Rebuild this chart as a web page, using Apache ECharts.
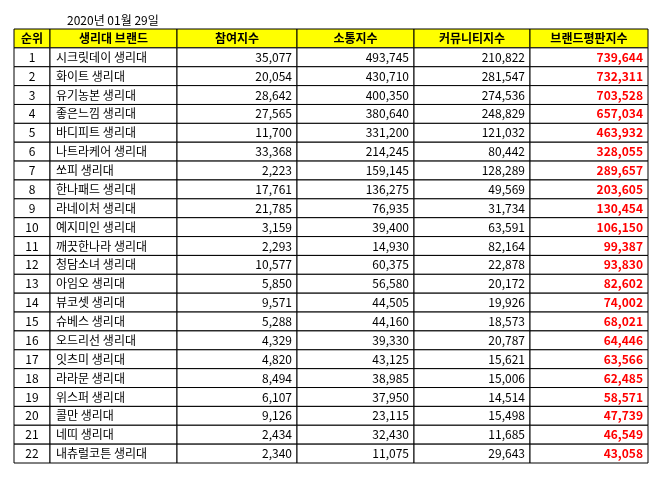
<!DOCTYPE html>
<html><head><meta charset="utf-8">
<script src="https://cdn.jsdelivr.net/npm/echarts@6/dist/echarts.min.js"></script>
<style>body{margin:0;background:#fff}#main{width:660px;height:478px}</style>
</head><body><div id="main"></div>
<script>
var headers = ['순위', '생리대 브랜드', '참여지수', '소통지수', '커뮤니티지수', '브랜드평판지수'];
var brands = ['시크릿데이 생리대', '화이트 생리대', '유기농본 생리대', '좋은느낌 생리대', '바디피트 생리대', '나트라케어 생리대', '쏘피 생리대', '한나패드 생리대', '라네이처 생리대', '예지미인 생리대', '깨끗한나라 생리대', '청담소녀 생리대', '아임오 생리대', '뷰코셋 생리대', '슈베스 생리대', '오드리선 생리대', '잇츠미 생리대', '라라문 생리대', '위스퍼 생리대', '콜만 생리대', '네띠 생리대', '내츄럴코튼 생리대'];
var participation = [35077, 20054, 28642, 27565, 11700, 33368, 2223, 17761, 21785, 3159, 2293, 10577, 5850, 9571, 5288, 4329, 4820, 8494, 6107, 9126, 2434, 2340];
var communication = [493745, 430710, 400350, 380640, 331200, 214245, 159145, 136275, 76935, 39400, 14930, 60375, 56580, 44505, 44160, 39330, 43125, 38985, 37950, 23115, 32430, 11075];
var community = [210822, 281547, 274536, 248829, 121032, 80442, 128289, 49569, 31734, 63591, 82164, 22878, 20172, 19926, 18573, 20787, 15621, 15006, 14514, 15498, 11685, 29643];
var reputation = [739644, 732311, 703528, 657034, 463932, 328055, 289657, 203605, 130454, 106150, 99387, 93830, 82602, 74002, 68021, 64446, 63566, 62485, 58571, 47739, 46549, 43058];

var colEdges = [14, 50, 177, 297, 414, 530, 648];
var fmt = function (v) { return v.toLocaleString('en-US'); };

// [col, row, text, kind]
var cells = [];
headers.forEach(function (h, c) { cells.push([c, 0, h, 'head']); });
brands.forEach(function (b, i) {
  var r = i + 1;
  cells.push([0, r, String(r), 'rank']);
  cells.push([1, r, b, 'name']);
  cells.push([2, r, fmt(participation[i]), 'num']);
  cells.push([3, r, fmt(communication[i]), 'num']);
  cells.push([4, r, fmt(community[i]), 'num']);
  cells.push([5, r, fmt(reputation[i]), 'rep']);
});

var font = '"Noto Sans CJK KR", sans-serif';
var chart = echarts.init(document.getElementById('main'));
chart.setOption({
  animation: false,
  title: { text: '2020년 01월 29일', left: 62, top: 9, textStyle: { fontSize: 12, fontWeight: 'normal', color: '#000', fontFamily: font } },
  grid: { left: 0, right: 0, top: 29, bottom: 15 },
  xAxis: { type: 'value', min: 0, max: 660, show: false },
  yAxis: { type: 'value', min: 0, max: 23, inverse: true, show: false },
  series: [{
    type: 'custom',
    data: cells,
    renderItem: function (params, api) {
      var c = api.value(0), r = api.value(1);
      var p0 = api.coord([colEdges[c], r]);
      var p1 = api.coord([colEdges[c + 1], r + 1]);
      var kind = cells[params.dataIndex][3];
      var text = cells[params.dataIndex][2];
      var align = 'center', tx = (p0[0] + p1[0]) / 2;
      if (kind === 'name') { align = 'left'; tx = p0[0] + 6; }
      if (kind === 'num' || kind === 'rep') { align = 'right'; tx = p1[0] - 5; }
      return {
        type: 'group',
        children: [
          { type: 'rect', shape: { x: p0[0], y: p0[1], width: p1[0] - p0[0], height: p1[1] - p0[1] },
            style: { fill: kind === 'head' ? '#ffff00' : '#fff', stroke: '#000', lineWidth: 1 } },
          { type: 'text', x: tx, y: (p0[1] + p1[1]) / 2,
            style: { text: text, align: align, verticalAlign: 'middle', fontFamily: font, fontSize: 12,
              fontWeight: (kind === 'head' || kind === 'rep') ? 'bold' : 'normal',
              fill: kind === 'rep' ? '#ff0000' : '#000' } }
        ]
      };
    }
  }]
});
</script></body></html>
